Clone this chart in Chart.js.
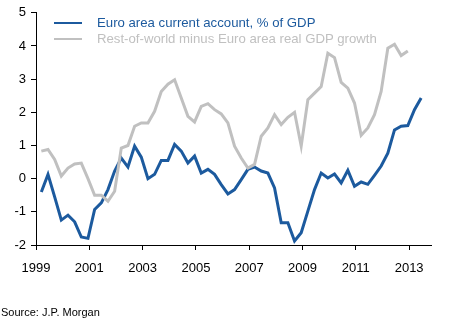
<!DOCTYPE html>
<html>
<head>
<meta charset="utf-8">
<script src="https://cdn.jsdelivr.net/npm/chart.js@4/dist/chart.umd.min.js"></script>
<style>
  html, body { margin: 0; padding: 0; background: #fff; }
  #wrap { position: relative; width: 454px; height: 322px; font-family: 'Liberation Sans', Arial, sans-serif; }
  #legend { position: absolute; left: 54px; top: 15px; font-size: 13.2px; line-height: 16px; }
  #legend .row { display: flex; align-items: center; white-space: nowrap; }
  #legend .swatch { width: 28px; height: 2px; margin-right: 15px; }
  #source { position: absolute; left: 1px; top: 306px; font-size: 11px; color: #000; white-space: nowrap; }
</style>
</head>
<body>
<div id="wrap">
  <canvas id="c"></canvas>
  <div id="legend"></div>
  <div id="source">Source: J.P. Morgan</div>
</div>
<script>
const BLUE = '#1c5a9e'
const GREY = '#c0c0c0'

const QUARTERS = [
  '1999Q1','1999Q2','1999Q3','1999Q4','2000Q1','2000Q2','2000Q3','2000Q4',
  '2001Q1','2001Q2','2001Q3','2001Q4','2002Q1','2002Q2','2002Q3','2002Q4',
  '2003Q1','2003Q2','2003Q3','2003Q4','2004Q1','2004Q2','2004Q3','2004Q4',
  '2005Q1','2005Q2','2005Q3','2005Q4','2006Q1','2006Q2','2006Q3','2006Q4',
  '2007Q1','2007Q2','2007Q3','2007Q4','2008Q1','2008Q2','2008Q3','2008Q4',
  '2009Q1','2009Q2','2009Q3','2009Q4','2010Q1','2010Q2','2010Q3','2010Q4',
  '2011Q1','2011Q2','2011Q3','2011Q4','2012Q1','2012Q2','2012Q3','2012Q4',
  '2013Q1','2013Q2',
]

// Euro area current account, % of GDP
const currentAccount = [
  -0.40, 0.13, -0.55, -1.25, -1.10, -1.30, -1.76, -1.80,
  -0.93, -0.73, -0.33, 0.23, 0.62, 0.35, 0.98, 0.65,
  0.00, 0.13, 0.55, 0.55, 1.03, 0.83, 0.47, 0.68,
  0.17, 0.28, 0.13, -0.18, -0.46, -0.33, -0.03, 0.28,
  0.35, 0.23, 0.17, -0.28, -1.33, -1.33, -1.88, -1.63,
  -0.98, -0.33, 0.17, 0.02, 0.14, -0.13, 0.25, -0.23,
  -0.10, -0.17, 0.10, 0.38, 0.77, 1.47, 1.58, 1.60,
  2.08, 2.43,
]

// Rest-of-world minus Euro area real GDP growth
const growthGap = [
  0.83, 0.88, 0.58, 0.08, 0.32, 0.44, 0.47, 0.00,
  -0.50, -0.50, -0.68, -0.38, 0.92, 1.00, 1.58, 1.68,
  1.68, 2.03, 2.63, 2.85, 2.98, 2.43, 1.88, 1.71,
  2.18, 2.26, 2.08, 1.95, 1.68, 0.98, 0.62, 0.32,
  0.43, 1.28, 1.53, 1.93, 1.63, 1.85, 2.00, 0.98,
  2.38, 2.58, 2.78, 3.78, 3.65, 2.90, 2.73, 2.28,
  1.31, 1.53, 1.93, 2.63, 3.93, 4.05, 3.71, 3.85,
]

const X_TICKS = [1999, 2001, 2003, 2005, 2007, 2009, 2011, 2013]
const Y_TICKS = [-2, -1, 0, 1, 2, 3, 4, 5]

const SERIES = [
  { label: 'Euro area current account, % of GDP', values: currentAccount, color: BLUE },
  { label: 'Rest-of-world minus Euro area real GDP growth', values: growthGap, color: GREY },
]

function quarterX(q) {
  const [y, n] = q.split('Q').map(Number)
  return y + (n - 1) / 4 + 0.2
}

function toPoints(values) {
  return values.map((v, i) => ({ x: quarterX(QUARTERS[i]), y: v }))
}

// legend as plain html text
const legend = document.getElementById('legend')
SERIES.forEach(s => {
  const row = document.createElement('div')
  row.className = 'row'
  row.style.color = s.color
  row.innerHTML = `<span class="swatch" style="background:${s.color}"></span><span>${s.label}</span>`
  legend.appendChild(row)
})

const FONT = { family: "'Liberation Sans', Arial, sans-serif", size: 13 }

new Chart(document.getElementById('c'), {
  type: 'line',
  data: {
    datasets: SERIES.slice().reverse().map(s => ({
      label: s.label,
      data: toPoints(s.values),
      borderColor: s.color,
      backgroundColor: s.color,
      borderWidth: 3,
      pointRadius: 0,
      tension: 0,
    })),
  },
  options: {
    responsive: true,
    maintainAspectRatio: false,
    animation: false,
    layout: { padding: { top: 12, right: 23, left: 0, bottom: 0 } },
    plugins: { legend: { display: false }, tooltip: { enabled: false } },
    scales: {
      x: {
        type: 'linear',
        min: 1999,
        max: 2013.82,
        afterBuildTicks: (scale) => { scale.ticks = X_TICKS.map(v => ({ value: v })) },
        afterFit: (scale) => { scale.height = 77 },
        ticks: { color: '#000', font: FONT, padding: 11, maxRotation: 0, callback: (v) => String(v) },
        grid: { display: true, drawOnChartArea: false, drawTicks: true, tickLength: 5, color: '#000' },
        border: { display: true, color: '#000', width: 1 },
      },
      y: {
        min: -2,
        max: 5,
        afterBuildTicks: (scale) => { scale.ticks = Y_TICKS.map(v => ({ value: v })) },
        afterFit: (scale) => { scale.width = 36 },
        ticks: { color: '#000', font: FONT, padding: 5 },
        grid: { display: true, drawOnChartArea: false, drawTicks: true, tickLength: 5, color: '#000' },
        border: { display: true, color: '#000', width: 1 },
      },
    },
  },
})
</script>
</body>
</html>
